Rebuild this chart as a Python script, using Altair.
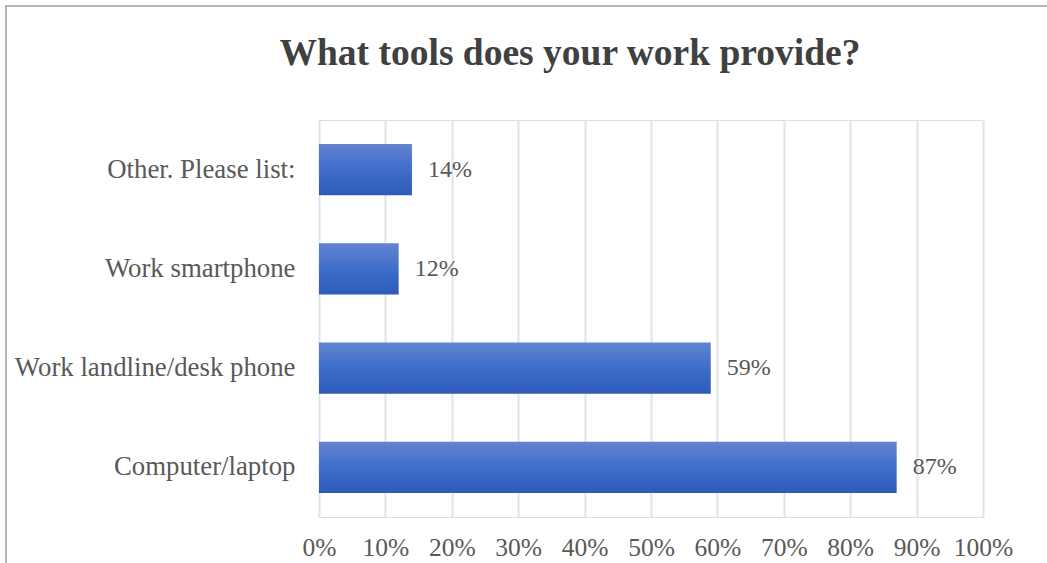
import altair as alt
import pandas as pd

categories = ["Other. Please list:", "Work smartphone", "Work landline/desk phone", "Computer/laptop"]
values = [0.14, 0.12, 0.59, 0.87]
tick_values = [0, 0.1, 0.2, 0.3, 0.4, 0.5, 0.6, 0.7, 0.8, 0.9, 1.0]
title_text = "What tools does your work provide?"

df = pd.DataFrame({"category": categories, "value": values})

FONT = "Liberation Serif"
TXT = "#595959"

W, H = 664, 397
PL, PT = 319, 120

base = alt.Chart(df)

bars = base.mark_bar(
    color=alt.Gradient(
        gradient="linear",
        stops=[
            alt.GradientStop(color="#6284d1", offset=0),
            alt.GradientStop(color="#3f6dca", offset=0.5),
            alt.GradientStop(color="#2d5cb8", offset=1),
        ],
        x1=0, x2=0, y1=0, y2=1,
    )
).encode(
    y=alt.Y("category:N", sort=categories,
            scale=alt.Scale(paddingInner=0.485, paddingOuter=0.2425),
            axis=alt.Axis(title=None, ticks=False, domain=False, grid=False,
                          labelFont=FONT, labelFontSize=26.8, labelColor=TXT,
                          labelPadding=24, labelLimit=400)),
    x=alt.X("value:Q", scale=alt.Scale(domain=[0, 1], nice=False),
            axis=alt.Axis(title=None, values=tick_values, format=".0%",
                          ticks=False, domain=False, grid=True,
                          gridColor="#dfe4ea", gridWidth=2,
                          labelOverlap=False, labelFlush=False,
                          labelFont=FONT, labelFontSize=25.5, labelColor=TXT,
                          labelPadding=18)),
)

labels = base.mark_text(
    align="left", baseline="middle", dx=16, font=FONT, fontSize=24, color=TXT
).encode(
    y=alt.Y("category:N", sort=categories),
    x=alt.X("value:Q"),
    text=alt.Text("value:Q", format=".0%"),
)

frame_df = pd.DataFrame({"k": [0]})
top_line = alt.Chart(frame_df).mark_rule(color="#b4b4b4", strokeWidth=2).encode(
    x=alt.value(-PL + 5), x2=alt.value(1047 - PL), y=alt.value(-PT + 6)
)
left_line = alt.Chart(frame_df).mark_rule(color="#b4b4b4", strokeWidth=2).encode(
    x=alt.value(-PL + 6), y=alt.value(-PT + 6), y2=alt.value(563 - PT)
)
title = alt.Chart(pd.DataFrame({"t": [title_text]})).mark_text(
    font=FONT, fontSize=37.5, fontWeight="bold", color="#404040",
    align="center", baseline="alphabetic"
).encode(
    text="t:N", x=alt.value(570 - PL), y=alt.value(65 - PT)
)

chart = alt.layer(bars, labels, top_line, left_line, title).properties(
    width=W, height=H,
    autosize=alt.AutoSizeParams(type="none"),
    padding={"left": PL, "top": PT, "right": 1047 - PL - W, "bottom": 563 - PT - H},
).configure_view(stroke="#d0d0d0", strokeWidth=2).configure(background="white")

chart.save("out.html", embed_options={"renderer": "svg", "actions": False})
